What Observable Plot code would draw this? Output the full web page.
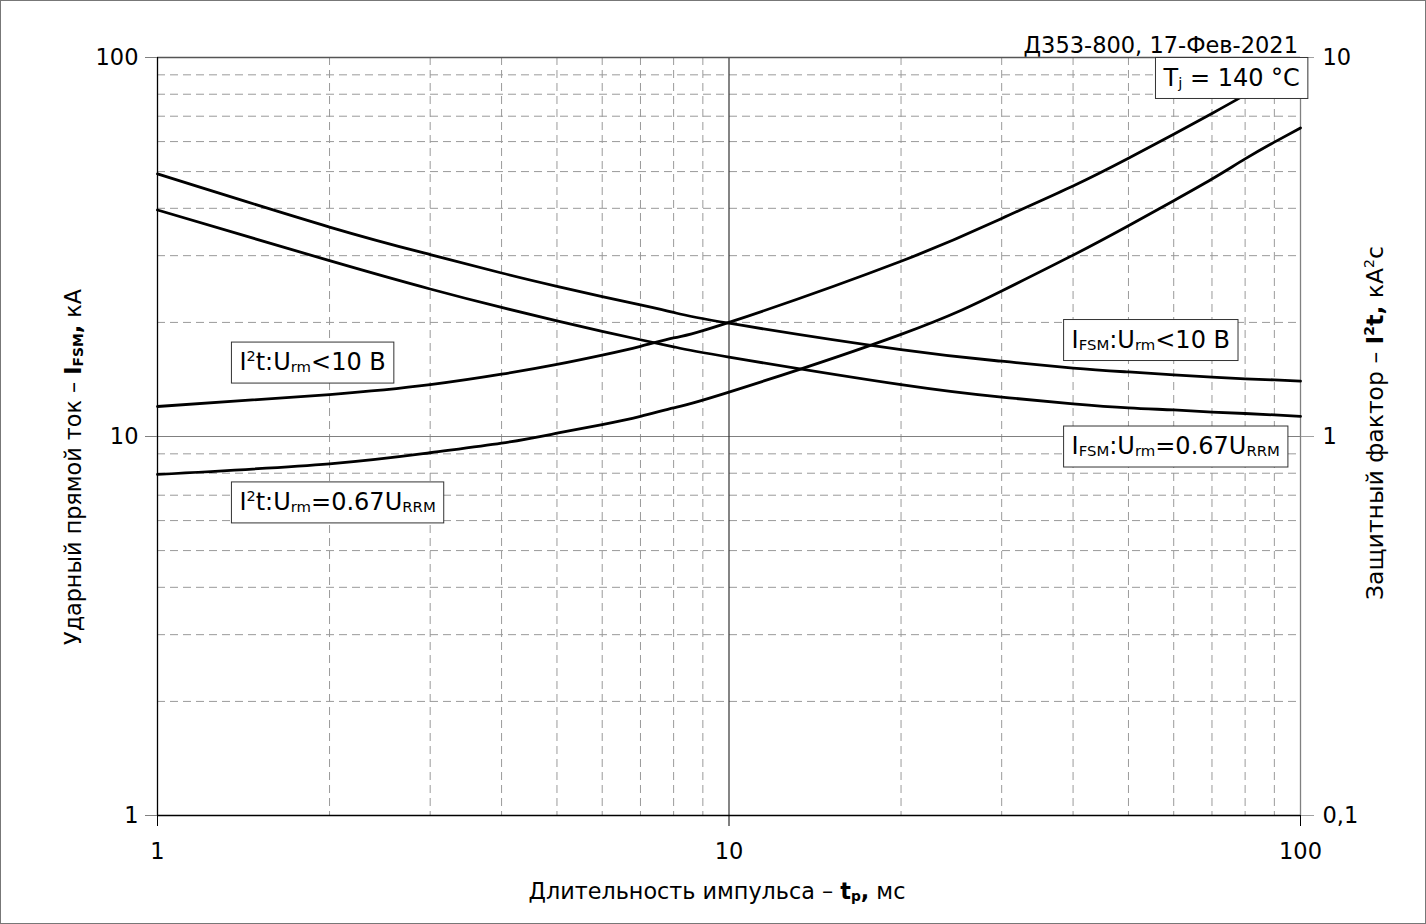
<!DOCTYPE html>
<html><head><meta charset="utf-8">
<script src="https://cdn.jsdelivr.net/npm/d3@7"></script>
<script src="https://cdn.jsdelivr.net/npm/@observablehq/plot@0.6"></script>
<style>
html,body{margin:0;padding:0;background:#fff;}
#wrap{position:relative;width:1426px;height:924px;overflow:hidden;background:#fff;}
#border{position:absolute;left:0;top:0;width:1426px;height:924px;box-sizing:border-box;border:1px solid #777;pointer-events:none;}
</style></head><body><div id="wrap"><div id="border"></div></div>
<script>
// pulse duration, ms
const tp = [1, 2, 3, 4, 5, 6, 7, 8, 10, 20, 30, 40, 50, 60, 70, 80, 90, 100];
// surge current IFSM, kA
const ifsmLowV  = [49.3, 35.7, 30.2, 27.0, 24.9, 23.4, 22.25, 21.25, 19.9, 16.95, 15.8, 15.15, 14.8, 14.55, 14.35, 14.2, 14.1, 14.0];
const ifsmRated = [39.6, 29.1, 24.5, 21.9, 20.2, 18.95, 18.0, 17.25, 16.2, 13.7, 12.7, 12.2, 11.9, 11.75, 11.6, 11.5, 11.4, 11.3];
// I2t, kA^2 s (right axis)
const i2tLowV   = [1.20, 1.29, 1.37, 1.46, 1.55, 1.64, 1.73, 1.82, 2.00, 2.90, 3.76, 4.58, 5.42, 6.27, 7.12, 7.97, 8.85, 9.75];
const i2tRated  = [0.794, 0.847, 0.906, 0.96, 1.02, 1.075, 1.13, 1.19, 1.31, 1.86, 2.42, 3.01, 3.60, 4.19, 4.78, 5.40, 5.98, 6.52];

const xTicks = [1, 10, 100];
const yTicks = [1, 10, 100];
const xTickLabels = ["1", "10", "100"];
const yTickLabels = ["1", "10", "100"];
const rightTickLabels = ["0,1", "1", "10"];
const xMinor = [2,3,4,5,6,7,8,9,20,30,40,50,60,70,80,90];
const yMinor = [2,3,4,5,6,7,8,9,20,30,40,50,60,70,80,90];
const rightAxisFactor = 10; // right axis value * 10 = left axis value

const title = "Д353-800, 17-Фев-2021";
// annotation labels (markup: _{sub} ^{sup})
const labelMarkup = ["T_{j} = 140 °C", "I_{FSM}:U_{rm}<10 B", "I_{FSM}:U_{rm}=0.67U_{RRM}", "I^{2}t:U_{rm}<10 B", "I^{2}t:U_{rm}=0.67U_{RRM}"];
const labelX = [55.75, 38.5, 38.5, 1.347, 1.347];
const labelY = [88.3, 17.97, 9.41, 15.67, 6.70];

const series = [
  {name: "IFSM<10", values: ifsmLowV, factor: 1},
  {name: "IFSM0.67", values: ifsmRated, factor: 1},
  {name: "I2t<10", values: i2tLowV, factor: rightAxisFactor},
  {name: "I2t0.67", values: i2tRated, factor: rightAxisFactor}
];
const rows = series.flatMap(s => tp.map((t, i) => ({tp: t, v: s.values[i] * s.factor, series: s.name})));
const plain = m => m.replace(/[_^]\{([^}]*)\}/g, "$1");
const labels = labelMarkup.map((m, i) => ({text: plain(m), markup: m, x: labelX[i], y: labelY[i]}));

const FONT = '"DejaVu Sans", Verdana, sans-serif';
const LABEL_SIZE = 24;
const chart = Plot.plot({
  width: 1426, height: 924,
  marginLeft: 157, marginRight: 126, marginTop: 57, marginBottom: 109,
  style: {fontFamily: FONT, fontSize: "22px", background: "transparent", color: "black", overflow: "visible"},
  x: {type: "log", domain: [1, 100]},
  y: {type: "log", domain: [1, 100]},
  marks: [
    Plot.ruleX(xMinor, {stroke: "#9a9a9a", strokeDasharray: "8,5", strokeWidth: 1}),
    Plot.ruleY(yMinor, {stroke: "#9a9a9a", strokeDasharray: "8,5", strokeWidth: 1}),
    Plot.ruleY([10], {stroke: "#808080", strokeWidth: 1.2}),
    Plot.ruleX([10], {stroke: "#333", strokeWidth: 1.2}),
    Plot.ruleY([100], {stroke: "#555", strokeWidth: 1.3}),
    Plot.ruleX([100], {stroke: "#808080", strokeWidth: 1.3}),
    Plot.ruleY([1], {stroke: "black", strokeWidth: 1.3}),
    Plot.ruleX([1], {stroke: "black", strokeWidth: 1.3}),
    Plot.axisX({ticks: xTicks, tickFormat: d => xTickLabels[xTicks.indexOf(d)], tickSize: 11, tickPadding: 17, fontSize: 22.5, label: null}),
    Plot.axisY({anchor: "left", ticks: yTicks, tickFormat: d => yTickLabels[yTicks.indexOf(d)], tickSize: 12, tickPadding: 7, stroke: "#808080", fontSize: 22.5, label: null}),
    Plot.axisY({anchor: "right", ticks: yTicks, tickFormat: d => rightTickLabels[yTicks.indexOf(d)], tickSize: 13, tickPadding: 9, stroke: "#a0a0a0", fontSize: 22.5, label: null}),
    Plot.line(rows, {x: "tp", y: "v", z: "series", stroke: "black", strokeWidth: 2.8, curve: "natural"}),
    Plot.text(labels, {x: "x", y: "y", text: "text", textAnchor: "start", lineAnchor: "middle", dx: 8, fontSize: LABEL_SIZE, fill: "black"})
  ]
});
document.getElementById("wrap").appendChild(chart);

const NS = "http://www.w3.org/2000/svg";
function richText(el, parts, size) {
  el.textContent = "";
  let off = 0;
  for (const p of parts) {
    const ts = document.createElementNS(NS, "tspan");
    ts.textContent = p.t;
    let target = 0;
    if (p.sub) { ts.setAttribute("font-size", size * 0.62); target = size * 0.08; }
    if (p.sup) { ts.setAttribute("font-size", size * 0.6); target = -size * 0.4; }
    if (p.bold) ts.setAttribute("font-weight", "bold");
    if (target - off !== 0) ts.setAttribute("dy", target - off);
    off = target;
    el.appendChild(ts);
  }
}
function parseMarkup(m) {
  const parts = [];
  const re = /([_^])\{([^}]*)\}|([^_^]+)/g;
  let r;
  while ((r = re.exec(m))) {
    if (r[3]) parts.push({t: r[3]});
    else parts.push({t: r[2], sub: r[1] === "_", sup: r[1] === "^"});
  }
  return parts;
}
const svg = d3.select(chart.tagName.toLowerCase() === "svg" ? chart : chart.querySelector("svg"));
svg.selectAll("text").each(function () {
  const lab = labels.find(l => l.text === this.textContent);
  if (!lab) return;
  richText(this, parseMarkup(lab.markup), LABEL_SIZE);
  const bb = this.getBBox();
  const rect = document.createElementNS(NS, "rect");
  const tr = this.getAttribute("transform");
  if (tr) rect.setAttribute("transform", tr);
  rect.setAttribute("x", -8);
  rect.setAttribute("y", -20.5);
  rect.setAttribute("width", bb.x + bb.width + 16);
  rect.setAttribute("height", 41);
  rect.setAttribute("fill", "white");
  rect.setAttribute("stroke", "#333");
  rect.setAttribute("stroke-width", 1);
  this.parentNode.insertBefore(rect, this);
});

function addText(x, y, rotate, anchor, parts, size) {
  const t = svg.append("text")
    .attr("transform", `translate(${x},${y})` + (rotate ? ` rotate(${rotate})` : ""))
    .attr("text-anchor", anchor)
    .attr("font-family", FONT)
    .attr("font-size", size)
    .attr("fill", "black");
  richText(t.node(), parts, size);
}
addText(1298, 53, 0, "end", [{t: title}], 22.5);
addText(717, 899, 0, "middle", [{t: "Длительность импульса – "}, {t: "t", bold: true}, {t: "p", bold: true, sub: true}, {t: ",", bold: true}, {t: " мс"}], 22.3);
addText(81, 467, -90, "middle", [{t: "Ударный прямой ток – "}, {t: "I", bold: true}, {t: "FSM", bold: true, sub: true}, {t: ",", bold: true}, {t: " кА"}], 22.3);
addText(1383, 423, -90, "middle", [{t: "Защитный фактор – "}, {t: "I", bold: true}, {t: "2", bold: true, sup: true}, {t: "t", bold: true}, {t: ",", bold: true}, {t: " кА"}, {t: "2", sup: true}, {t: "с"}], 23.5);
</script>
</body></html>
